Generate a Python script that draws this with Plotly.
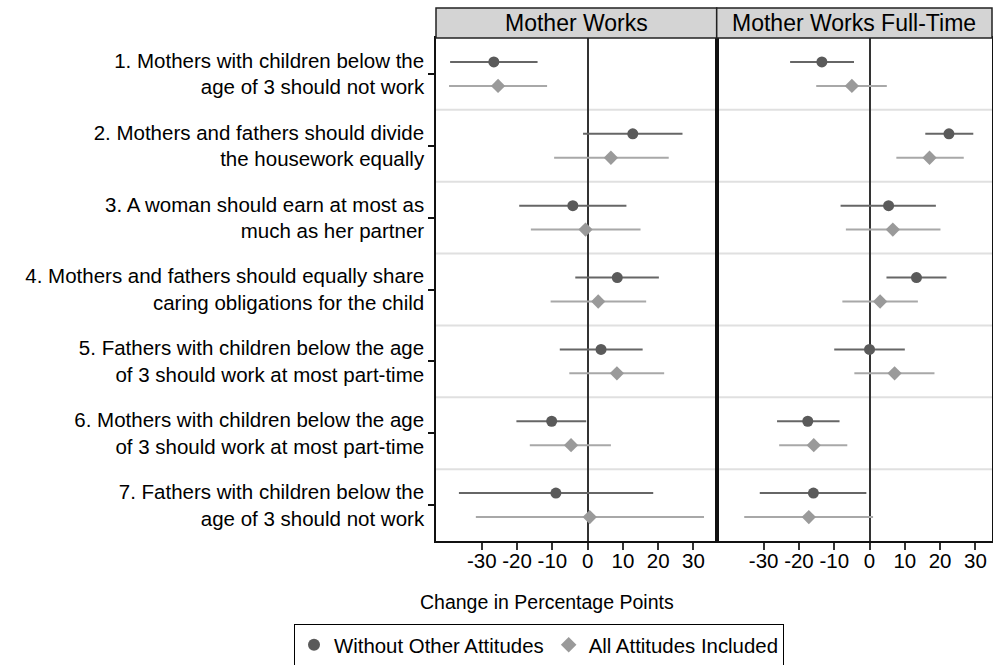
import plotly.graph_objects as go

# ---- data ----
categories = [
    "1. Mothers with children below the<br>age of 3 should not work",
    "2. Mothers and fathers should divide<br>the housework equally",
    "3. A woman should earn at most as<br>much as her partner",
    "4. Mothers and fathers should equally share<br>caring obligations for the child",
    "5. Fathers with children below the age<br>of 3 should work at most part-time",
    "6. Mothers with children below the age<br>of 3 should work at most part-time",
    "7. Fathers with children below the<br>age of 3 should not work",
]
panels = ["Mother Works", "Mother Works Full-Time"]
series_names = ["Without Other Attitudes", "All Attitudes Included"]

mw_without_est = [-26.6, 12.8, -4.2, 8.4, 3.8, -10.2, -9.0]
mw_without_lo = [-39.0, -1.3, -19.4, -3.5, -7.9, -20.2, -36.5]
mw_without_hi = [-14.2, 26.9, 11.0, 20.2, 15.6, -0.4, 18.6]

mw_all_est = [-25.4, 6.6, -0.6, 3.0, 8.3, -4.7, 0.6]
mw_all_lo = [-39.3, -9.5, -16.1, -10.5, -5.2, -16.4, -31.7]
mw_all_hi = [-11.5, 23.0, 15.0, 16.6, 21.7, 6.6, 33.0]

ft_without_est = [-13.5, 22.5, 5.4, 13.3, 0.0, -17.5, -15.9]
ft_without_lo = [-22.5, 15.8, -8.2, 4.8, -10.0, -26.2, -31.1]
ft_without_hi = [-4.4, 29.4, 18.8, 21.8, 10.0, -8.5, -0.9]

ft_all_est = [-5.0, 17.0, 6.6, 3.0, 7.1, -15.8, -17.2]
ft_all_lo = [-15.1, 7.6, -6.7, -7.7, -4.3, -25.6, -35.5]
ft_all_hi = [4.9, 26.7, 20.1, 13.7, 18.4, -6.3, 1.0]

x_ticks = [-30, -20, -10, 0, 10, 20, 30]
x_tick_labels = ["-30", "-20", "-10", "0", "10", "20", "30"]

# ---- styling ----
FONT = "Liberation Sans, Arial, sans-serif"
C_DARK = "#5a5a5a"
C_DARK_LINE = "#666666"
C_LIGHT = "#9a9a9a"
C_LIGHT_LINE = "#a8a8a8"

n = len(categories)
pos = list(range(1, n + 1))
off = 1.0 / 6.0

fig = go.Figure()

def add_series(est, lo, hi, xa, ya, shift, color, lcolor, symbol, size, name, show):
    fig.add_trace(go.Scatter(
        x=est, y=[p + shift for p in pos], mode="markers",
        xaxis=xa, yaxis=ya, name=name, showlegend=show, legendgroup=name,
        marker=dict(color=color, symbol=symbol, size=size, line=dict(width=0)),
        error_x=dict(type="data", symmetric=False,
                     array=[h - e for h, e in zip(hi, est)],
                     arrayminus=[e - l for e, l in zip(est, lo)],
                     color=lcolor, thickness=2, width=0),
    ))

add_series(mw_without_est, mw_without_lo, mw_without_hi, "x", "y", -off,
           C_DARK, C_DARK_LINE, "circle", 11, series_names[0], True)
add_series(mw_all_est, mw_all_lo, mw_all_hi, "x", "y", off,
           C_LIGHT, C_LIGHT_LINE, "diamond", 11, series_names[1], True)
add_series(ft_without_est, ft_without_lo, ft_without_hi, "x2", "y2", -off,
           C_DARK, C_DARK_LINE, "circle", 11, series_names[0], False)
add_series(ft_all_est, ft_all_lo, ft_all_hi, "x2", "y2", off,
           C_LIGHT, C_LIGHT_LINE, "diamond", 11, series_names[1], False)

W, H = 993, 665
ml, mr, mt, mb = 436, 1, 38, 124
pw = W - ml - mr
ph = H - mt - mb
split = (716.7 - ml) / pw

xcommon = dict(
    tickvals=x_ticks, ticktext=x_tick_labels, tickangle=0, ticks="outside",
    ticklen=7, tickwidth=1.5, tickcolor="#333333", ticklabelstandoff=-6,
    showline=True, mirror=True, linecolor="#111111", linewidth=1.5,
    showgrid=False, zeroline=True, zerolinecolor="#333333", zerolinewidth=2,
    tickfont=dict(size=20.5, color="black", family=FONT),
)
ycommon = dict(
    range=[n + 0.5, 0.5], showline=True, mirror=True, linecolor="#111111",
    linewidth=1.5, showgrid=False, zeroline=False,
)

fig.update_layout(
    width=W, height=H,
    margin=dict(l=ml, r=mr, t=mt, b=mb, autoexpand=False),
    paper_bgcolor="white", plot_bgcolor="white",
    font=dict(family=FONT, color="black"),
    xaxis=dict(domain=[0, split], range=[-43.0, 36.6], **xcommon),
    xaxis2=dict(domain=[split, 1], range=[-43.3, 34.7], **xcommon),
    yaxis=dict(anchor="x", tickvals=pos, ticktext=categories, ticks="outside",
               ticklen=6, tickwidth=1.5, tickcolor="#111111",
               tickfont=dict(size=20.5, color="black", family=FONT), **ycommon),
    yaxis2=dict(anchor="x2", matches="y", showticklabels=False, ticks="", **ycommon),
    showlegend=True,
    legend=dict(orientation="h", x=(294 - ml) / pw, y=-(624 - (H - mb)) / ph,
                xanchor="left", yanchor="top", bordercolor="black", borderwidth=1,
                font=dict(size=20.4, family=FONT, color="black"),
                bgcolor="white", itemsizing="constant"),
)

# separator lines between statements
for k in range(1, n):
    fig.add_shape(type="line", xref="paper", yref="y", x0=0, x1=1,
                  y0=k + 0.5, y1=k + 0.5, layer="below",
                  line=dict(color="#e0e0e0", width=2))

# strip headers
strip_h = 30 / ph
for i, (xr, title) in enumerate(zip(["x domain", "x2 domain"], panels)):
    fig.add_shape(type="rect", xref=xr, yref="paper", x0=0, x1=1, y0=1, y1=1 + strip_h,
                  fillcolor="#d4d4d4", line=dict(color="#222222", width=1.5), layer="above")
    fig.add_annotation(xref=xr, yref="paper", x=0.5, y=1 + strip_h / 2, text=title,
                       showarrow=False, font=dict(size=23, family=FONT, color="black"),
                       xanchor="center", yanchor="middle")

# axis title
fig.add_annotation(xref="paper", yref="paper", x=(547 - ml) / pw, y=-(602 - (H - mb)) / ph,
                   text="Change in Percentage Points", showarrow=False,
                   font=dict(size=19.5, family=FONT, color="black"),
                   xanchor="center", yanchor="middle")

fig.write_html("out.html", config={"displayModeBar": False},
               post_script="document.body.style.margin='0';")
